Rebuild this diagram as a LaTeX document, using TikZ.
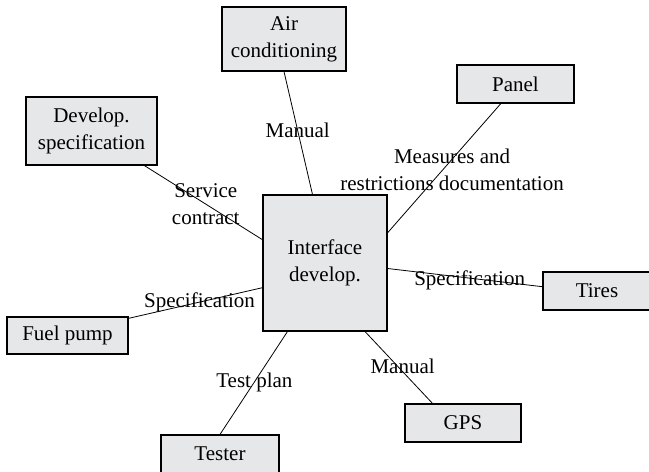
\documentclass[tikz,border=0pt]{standalone}
\usepackage{fontspec}
\setmainfont{Liberation Serif}
\usetikzlibrary{calc}
\definecolor{boxfill}{RGB}{230,231,232}

\begin{document}
\begin{tikzpicture}[x=1pt,y=-1pt,
    unit/.style={draw,line width=1.1pt,fill=boxfill,inner sep=0pt,align=center,
      font=\fontsize{21}{27}\selectfont},
    link/.style={line width=0.8pt},
    tag/.style={inner sep=0pt,align=center,font=\fontsize{21}{27}\selectfont}]

    \useasboundingbox (0,0) rectangle (649,472);

    % boxes
    \node[unit,minimum width=124pt,minimum height=136pt] (iface) at (325,263) {Interface\\develop.};
    \node[unit,minimum width=124pt,minimum height=64pt] (ac) at (284,39) {Air\\conditioning};
    \node[unit,minimum width=131pt,minimum height=68pt] (spec) at (91.5,131) {Develop.\\specification};
    \node[unit,minimum width=117pt,minimum height=38pt] (panel) at (515.5,84) {Panel};
    \node[unit,minimum width=108pt,minimum height=38pt] (tires) at (597,291) {Tires};
    \node[unit,minimum width=121pt,minimum height=37pt] (fuel) at (67.5,335.5) {Fuel pump};
    \node[unit,minimum width=116pt,minimum height=38pt] (gps) at (463,423) {GPS};
    \node[unit,minimum width=118pt,minimum height=38pt] (tester) at (220,454) {Tester};

    % connections
    \draw[link] (ac.south) -- node[tag,pos=0.48] {Manual}
        ($(iface.north west)!0.40!(iface.north east)$);
    \draw[link] ($(spec.south west)!0.90!(spec.south east)$) -- node[tag,pos=0.52] {Service\\contract}
        ($(iface.north west)!0.33!(iface.south west)$);
    \draw[link] ($(panel.south west)!0.376!(panel.south east)$) -- node[tag,pos=0.51,xshift=9pt] {Measures and\\restrictions documentation}
        ($(iface.north east)!0.28!(iface.south east)$);
    \draw[link] ($(iface.north east)!0.54!(iface.south east)$) -- node[tag,pos=0.53,yshift=-2.5pt] {Specification}
        ($(tires.north west)!0.39!(tires.south west)$);
    \draw[link] ($(fuel.north east)!0.05!(fuel.south east)$) -- node[tag,pos=0.53] {Specification}
        ($(iface.north west)!0.68!(iface.south west)$);
    \draw[link] (tester.north) -- node[tag,pos=0.51] {Test plan}
        ($(iface.south west)!0.20!(iface.south east)$);
    \draw[link] ($(iface.south west)!0.82!(iface.south east)$) -- node[tag,pos=0.49,xshift=4.5pt] {Manual}
        ($(gps.north west)!0.24!(gps.north east)$);

\end{tikzpicture}
\end{document}
